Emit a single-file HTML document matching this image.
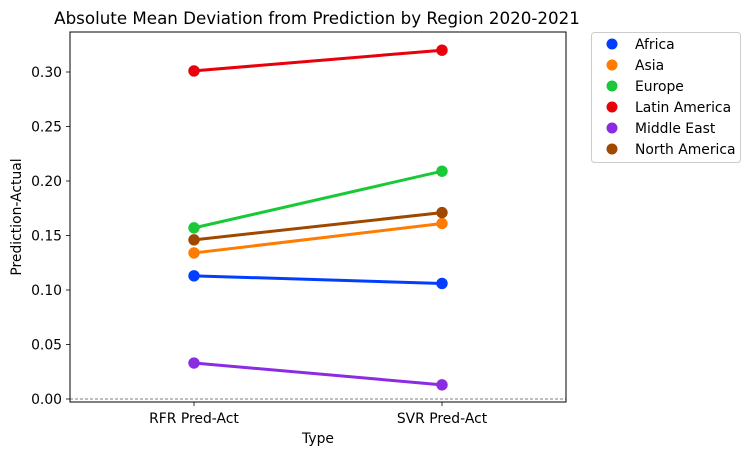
<!DOCTYPE html>
<html><head><meta charset="utf-8"><style>
body{margin:0;background:#fff;font-family:"DejaVu Sans","Liberation Sans",sans-serif;}
</style></head><body>
<svg id="chart" width="751" height="455" xmlns="http://www.w3.org/2000/svg" font-family="DejaVu Sans, Liberation Sans, sans-serif">
<rect width="751" height="455" fill="#fff"/>
<text x="317" y="24" font-size="16.7" text-anchor="middle" fill="#000">Absolute Mean Deviation from Prediction by Region 2020-2021</text>
<g id="plot"></g>
<g id="legend"></g>
</svg>
<script>
const categories = ["RFR Pred-Act", "SVR Pred-Act"];
const regions = ["Africa","Asia","Europe","Latin America","Middle East","North America"];
const colors = ["#023eff","#ff7c00","#1ac938","#e8000b","#8b2be2","#9f4800"];
const africa = [0.113, 0.106];
const asia = [0.134, 0.161];
const europe = [0.157, 0.209];
const latinAmerica = [0.301, 0.320];
const middleEast = [0.033, 0.013];
const northAmerica = [0.146, 0.171];
const yTicks = [0.00,0.05,0.10,0.15,0.20,0.25,0.30];

const series = [africa, asia, europe, latinAmerica, middleEast, northAmerica];
const NS="http://www.w3.org/2000/svg";
const L=70,R=566,T=32,B=402;
const yScale=v=>399-1090*v;
const xScale=i=>194+i*248;
const plot=document.getElementById('plot');
function mk(tag,attrs,parent){const e=document.createElementNS(NS,tag);for(const k in attrs)e.setAttribute(k,attrs[k]);(parent||plot).appendChild(e);return e;}

let e=mk('line',{x1:L,x2:R,y1:yScale(0),y2:yScale(0),stroke:'#555','stroke-width':0.8,'stroke-dasharray':'3,2'});



yTicks.forEach(t=>{
  const y=yScale(t);
  let l=mk('line',{x1:L-4,x2:L,y1:y,y2:y,stroke:'#000','stroke-width':0.8});
  
  
  let tx=mk('text',{x:L-8,y:y+5,'font-size':13.9,'text-anchor':'end'});
  tx.textContent=t.toFixed(2);
  
  
});
categories.forEach((c,i)=>{
  const x=xScale(i);
  let l=mk('line',{x1:x,x2:x,y1:B,y2:B+4,stroke:'#000','stroke-width':0.8});
  
  
  let tx=mk('text',{x:x,y:B+21,'font-size':13.9,'text-anchor':'middle'});
  tx.textContent=c;
  
  
});
series.forEach((s,k)=>{
  const pts=s.map((v,i)=>xScale(i)+','+yScale(v)).join(' ');
  let pl=mk('polyline',{points:pts,fill:'none',stroke:colors[k],'stroke-width':3});
  
  
  s.forEach((v,i)=>{
    let c=mk('circle',{cx:xScale(i),cy:yScale(v),r:5.7,fill:colors[k]});
    
    
  });
});
let fr=mk('rect',{x:L,y:T,width:R-L,height:B-T,fill:'none',stroke:'#000','stroke-width':1});


let xl=mk('text',{x:318,y:443,'font-size':13.9,'text-anchor':'middle'});
xl.textContent='Type';


let yl=mk('text',{x:21,y:217,'font-size':13.9,'text-anchor':'middle',transform:'rotate(-90 21 217)'});
yl.textContent='Prediction-Actual';



const lg=document.getElementById('legend');
let box=mk('rect',{x:591.5,y:32.5,width:149,height:130,rx:3,fill:'#fff',stroke:'#ccc','stroke-width':1},lg);


regions.forEach((r,k)=>{
  const y=44+k*21;
  let c=mk('circle',{cx:612,cy:y,r:5.5,fill:colors[k]},lg);
  
  
  let t=mk('text',{x:635,y:y+5,'font-size':13.9},lg);
  t.textContent=r;
  
  
});
</script>
</body></html>
